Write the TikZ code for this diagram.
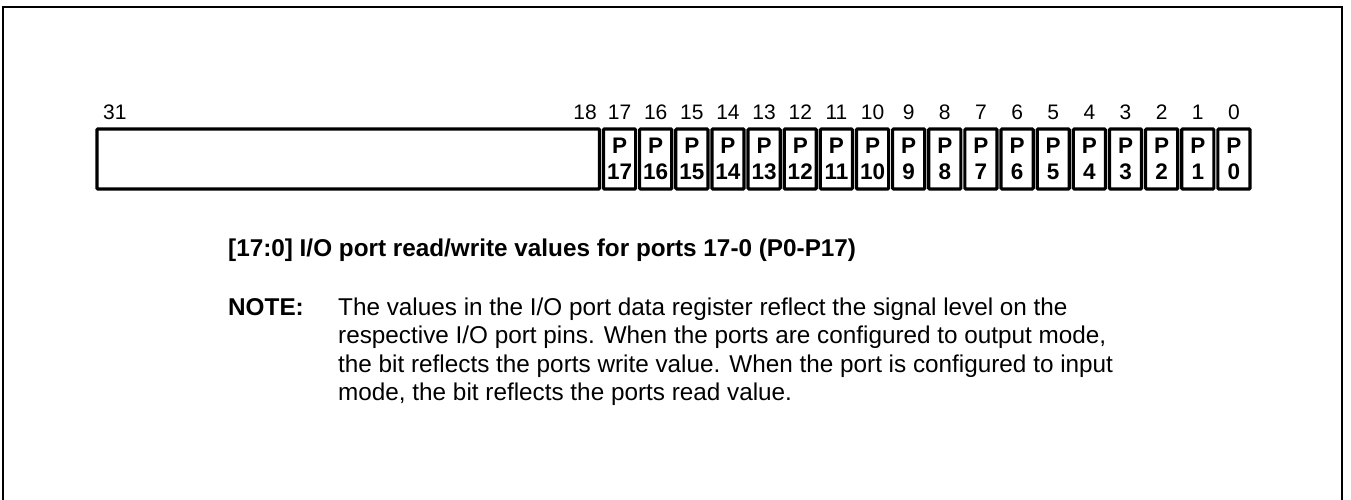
\documentclass[tikz,border=0pt]{standalone}
\usepackage{fontspec}
\setmainfont{Liberation Sans}
\begin{document}
\begin{tikzpicture}[x=1pt,y=-1pt,
  frame/.style={line width=2pt},
  bitlabel/.style={font=\fontsize{21}{21}\selectfont, inner sep=0pt, anchor=base},
  cell/.style={draw, line width=3.2pt, rounded corners=1pt, minimum width=32.14pt,
    minimum height=60pt, inner sep=0pt, align=center,
    font=\fontsize{22.5}{26}\bfseries\selectfont},
  heading/.style={font=\fontsize{24.3}{28}\bfseries\selectfont, inner sep=0pt, anchor=base west},
  body/.style={font=\fontsize{24.3}{28.5}\selectfont, inner sep=0pt, align=left}]
\useasboundingbox (0,0) rectangle (1351,500);
\draw[frame] (3,502) -- (3,7) -- (1342,7) -- (1342,502);
% register cells
\node[cell, minimum width=502.5pt] (rsv) at (348.25,159) {};
\foreach \i in {0,...,17}{
  \node[cell] (c\i) at ({1252-18.07-36.14*\i},159) {P\\\i};
  \node[bitlabel] (b\i) at ({1252-18.07-36.14*\i},120) {\i};
}
\node[bitlabel, anchor=base west] (b31) at (103,120) {31};
\node[bitlabel, anchor=base east] (b18) at (597,120) {18};
% description
\node[heading] (title) at (228,256.5) {[17:0] I/O port read/write values for ports 17-0 (P0-P17)};
\node[heading] (notelbl) at (228,315) {NOTE:};
\node[body, anchor=north west] (notetext) at (338,297.5) {The values in the I/O port data register reflect the signal level on the\\
respective I/O port pins. When the ports are configured to output mode,\\
the bit reflects the ports write value. When the port is configured to input\\
mode, the bit reflects the ports read value.};
\end{tikzpicture}
\end{document}
